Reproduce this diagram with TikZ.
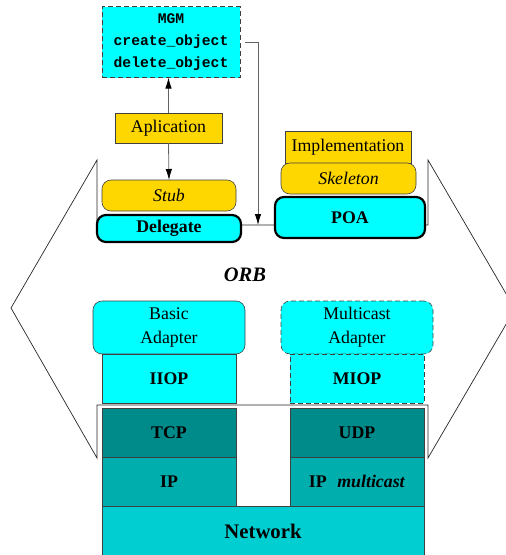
\documentclass[tikz,border=0pt]{standalone}
\usepackage{fontspec}
\setmainfont{Liberation Serif}
\setmonofont{Liberation Mono}
\usetikzlibrary{arrows.meta, positioning}
\definecolor{goldbox}{RGB}{255,215,0}
\definecolor{cyanbox}{RGB}{0,255,255}
\definecolor{tcpteal}{RGB}{0,139,139}
\definecolor{ipteal}{RGB}{0,174,174}
\definecolor{netteal}{RGB}{0,206,209}
\definecolor{wire}{RGB}{100,100,100}
\newcommand{\boxfont}{\fontsize{17.8}{24}\selectfont}
\tikzset{
  layer/.style={rectangle, draw=black!75, line width=0.6pt, outer sep=0pt, minimum width=134pt, minimum height=49pt, inner sep=0pt, text centered, font=\boxfont},
  appbox/.style={layer, fill=goldbox},
  stubbox/.style={layer, rounded corners=9pt, fill=goldbox, font=\boxfont\itshape},
  orbbox/.style={layer, rounded corners=9pt, fill=cyanbox, draw=black, line width=2.2pt, font=\boxfont\bfseries},
  adapter/.style={layer, rounded corners=9pt, fill=cyanbox, minimum width=152pt, minimum height=53pt, align=center},
  proto/.style={layer, fill=cyanbox, font=\boxfont\bfseries},
  transport/.style={layer, fill=tcpteal, font=\boxfont\bfseries},
  netlayer/.style={layer, fill=ipteal, font=\boxfont\bfseries},
  optional/.style={dash pattern=on 5pt off 3pt},
  orbline/.style={draw=black!85, line width=0.7pt},
  arrow/.style={draw=wire, line width=0.8pt, -{Latex[length=11pt,width=6.5pt,color=black]}}
}

\begin{document}
\begin{tikzpicture}[x=1pt, y=-1pt]
\clip (0,0) rectangle (506,555);

% ORB outline
\coordinate (tl) at (97,160);
\coordinate (lv) at (11,308);
\coordinate (bl) at (97,458);
\coordinate (stackl) at (97,405);
\coordinate (stackr) at (428,405);
\coordinate (br) at (428,458);
\coordinate (rv) at (515,309);
\coordinate (tr) at (428,160);
\coordinate (busr) at (428,225);
\coordinate (busl) at (97,225);
\coordinate (busin) at (258,225);
\draw [orbline] (tl) -- (lv) -- (bl) -- (stackl) -- (stackr) -- (br) -- (rv) -- (tr) -- (busr) -- (busl) -- cycle;

% Client side
\node (mgm) [layer, fill=cyanbox, optional, minimum width=138pt, minimum height=71pt, align=center,
  font=\fontsize{14.7}{22}\selectfont\ttfamily\bfseries] at (171,42) {MGM\\create\_object\\delete\_object};
\node (app) [appbox, minimum width=107pt, minimum height=30pt] at (168.5,128) {Aplication};
\node (stub) [stubbox, minimum height=31pt] at (169,195.5) {Stub};
\node (delegate) [orbbox, minimum width=144pt, minimum height=27pt] at (169,228.5) {Delegate};

% Server side
\node (impl) [appbox, minimum width=126pt, minimum height=32pt] at (348,147) {Implementation};
\node (skel) [stubbox, minimum width=135pt, minimum height=31pt] at (348.5,178.5) {Skeleton};
\node (poa) [orbbox, minimum width=150pt, minimum height=41pt] at (350,217.5) {POA};

\node (orb) at (245,275) {\fontsize{20.5}{24}\selectfont\bfseries\itshape ORB};

% Protocol stacks
\node (basic) [adapter] at (169,327.5) {Basic\\Adapter};
\node (iiop) [proto, below=0pt of basic] {IIOP};
\node (tcp) [transport, below=5pt of iiop] {TCP};
\node (ip) [netlayer, below=0pt of tcp] {IP};

\node (mcast) [adapter, optional] at (357,327.5) {Multicast\\Adapter};
\node (miop) [proto, optional, below=0pt of mcast] {MIOP};
\node (udp) [transport, below=5pt of miop] {UDP};
\node (ipm) [netlayer, below=0pt of udp] {IP\hspace{0.6em}\textit{multicast}};

\node (net) [layer, fill=netteal, minimum width=322pt, minimum height=50pt, anchor=north west,
  font=\fontsize{20.7}{24}\selectfont\bfseries] at (ip.south west) {Network};

% Invocations
\draw [arrow] (app.north) -- (app.north |- mgm.south);
\draw [arrow] (app.south) -- (stub.north);
\draw [arrow] ([xshift=5pt]mgm.east) -| (busin);

\end{tikzpicture}
\end{document}
